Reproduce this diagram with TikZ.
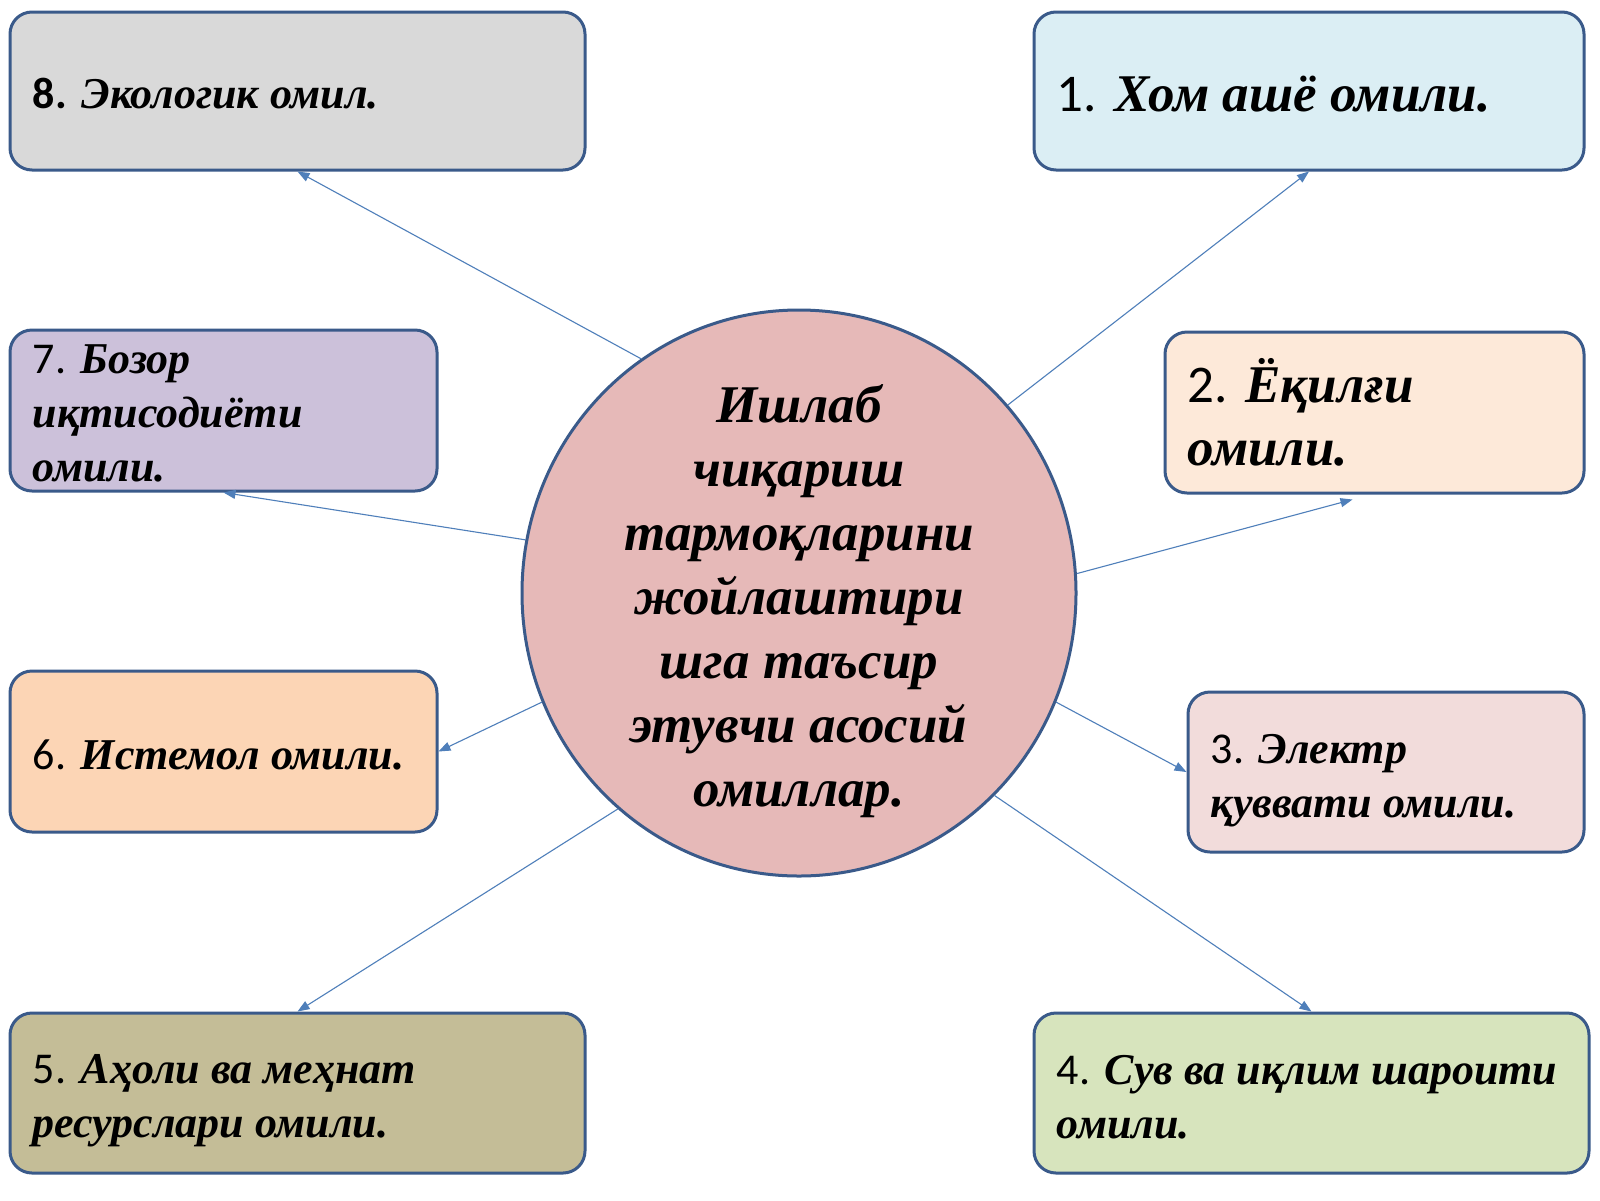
\documentclass[tikz,border=0pt]{standalone}
\usepackage{fontspec}
\setmainfont{Liberation Serif}
\newfontfamily\numfont{Carlito}
\usetikzlibrary{shapes.geometric,arrows.meta}
\definecolor{bordc}{HTML}{3A5A8A}
\definecolor{linec}{HTML}{4F7FBA}
\definecolor{c8}{HTML}{D9D9D9}
\definecolor{c1}{HTML}{DBEEF4}
\definecolor{c7}{HTML}{CCC1DA}
\definecolor{c2}{HTML}{FDE9D9}
\definecolor{c6}{HTML}{FCD5B5}
\definecolor{c3}{HTML}{F2DCDB}
\definecolor{c5}{HTML}{C4BD97}
\definecolor{c4}{HTML}{D7E4BD}
\definecolor{cc}{HTML}{E6B9B8}
\newcommand{\nm}[1]{{\numfont\upshape\mdseries #1}}
\begin{document}
\begin{tikzpicture}[x=1pt,y=-1pt,
  box/.style={draw=bordc, line width=3pt, rounded corners=22pt, inner sep=0pt},
  txt/.style={align=flush left, inner sep=0pt, anchor=west,
    font=\fontsize{44}{54}\selectfont\bfseries\itshape},
  bigtxt/.style={txt, font=\fontsize{53}{63}\selectfont\bfseries\itshape},
  arr/.style={draw=linec, line width=1.1pt, -{Triangle[length=12pt,width=9pt]}}]
\fill[white] (0,0) rectangle (1600,1200);
\useasboundingbox (0,0) rectangle (1600,1200);

\node[box, fill=c8, minimum width=575, minimum height=158] (b8) at (297.5,91) {};
\node[box, fill=c1, minimum width=550, minimum height=158] (b1) at (1309,91) {};
\node[box, fill=c7, minimum width=427, minimum height=161] (b7) at (223.5,410.5) {};
\node[box, fill=c2, minimum width=419, minimum height=161] (b2) at (1374.5,412.5) {};
\node[box, fill=c6, minimum width=427, minimum height=161] (b6) at (223.5,751.5) {};
\node[box, fill=c3, minimum width=396, minimum height=160] (b3) at (1386,772) {};
\node[box, fill=c5, minimum width=575, minimum height=160] (b5) at (297.5,1093) {};
\node[box, fill=c4, minimum width=555, minimum height=160] (b4) at (1311.5,1093) {};

\node[txt] (t8) at ([xshift=24pt,yshift=-3pt]b8.west)
  {{\numfont\upshape\bfseries 8.} Экологик омил.};
\node[bigtxt] (t1) at ([xshift=24pt,yshift=-3pt]b1.west)
  {\nm{1.} Хом ашё омили.};
\node[txt] (t7) at ([xshift=24pt,yshift=-3pt]b7.west)
  {\nm{7.} Бозор\\ иқтисодиёти\\ омили.};
\node[bigtxt] (t2) at ([xshift=24pt]b2.west)
  {\nm{2.} Ёқилғи\\ омили.};
\node[txt] (t6) at ([xshift=24pt,yshift=-3pt]b6.west)
  {\nm{6.} Истемол омили.};
\node[txt] (t3) at ([xshift=24pt,yshift=-9pt]b3.west)
  {\nm{3.} Электр\\ қуввати омили.};
\node[txt] (t5) at ([xshift=24pt,yshift=-8pt]b5.west)
  {\nm{5.} Аҳоли ва меҳнат\\ ресурслари омили.};
\node[txt] (t4) at ([xshift=24pt,yshift=-4pt]b4.west)
  {\nm{4.} Сув ва иқлим шароити\\ омили.};

\node[ellipse, draw=bordc, line width=3pt, fill=cc, minimum width=554, minimum height=566,
  inner sep=0pt] (c) at (799,593) {};
\node[align=center, inner sep=0pt, font=\fontsize{53}{64}\selectfont\bfseries\itshape] (ct) at (799,601)
  {Ишлаб\\ чиқариш\\ тармоқларини\\ жойлаштири\\ шга таъсир\\ этувчи асосий\\ омиллар.};

\draw[arr] (c.124.5) -- (b8.south);
\draw[arr] (c.42.7) -- (b1.south);
\draw[arr] (c.169.2) -- (b7.south);
\draw[arr] (c.4.7) -- ([xshift=-22pt,yshift=-5pt]b2.south);
\draw[arr] (c.203.3) -- (b6.east);
\draw[arr] (c.337.6) -- (b3.west);
\draw[arr] (c.230.4) -- (b5.north);
\draw[arr] (c.314.3) -- (b4.north);
\end{tikzpicture}
\end{document}
